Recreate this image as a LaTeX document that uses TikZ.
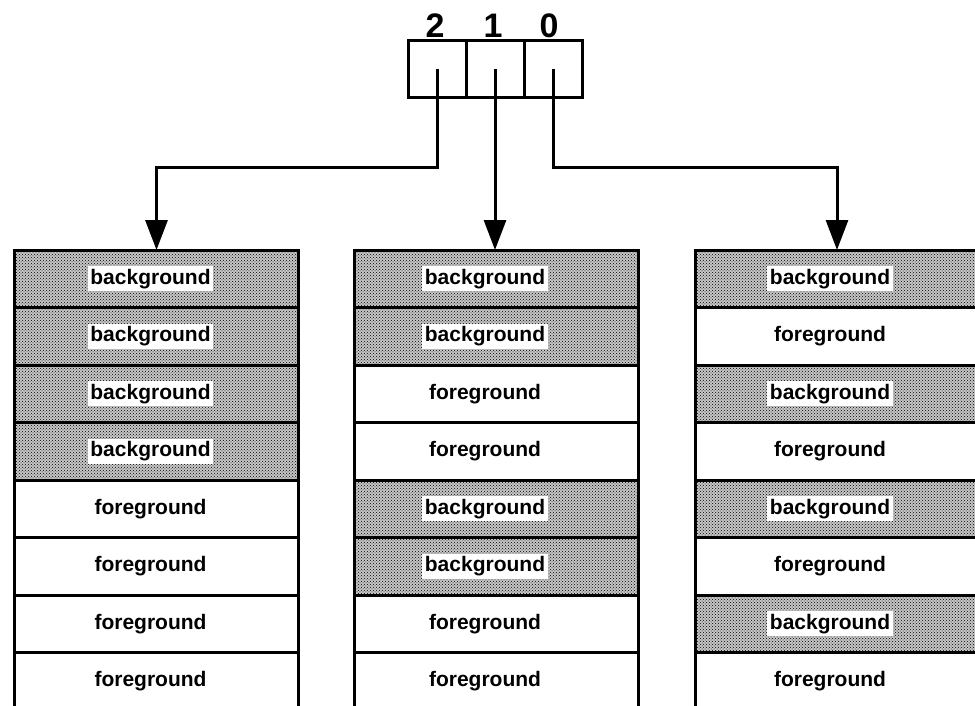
\documentclass[tikz,border=0pt]{standalone}
\usepackage{fontspec}
\setmainfont{Liberation Sans}
\usetikzlibrary{arrows.meta,patterns}
\newcommand\mycell[6]{% name, style, x, y, text x-shift, text
  \node[#2] (#1) at (#3,#4) {};
  \node[#2lbl] (#1t) at ([xshift=#5]#1.center) {#6};}
\begin{document}
\begin{tikzpicture}[x=1pt,y=-1pt,
  cell/.style={draw, line width=3pt, minimum width=284pt, minimum height=57.5pt, inner sep=0pt, outer sep=0pt},
  bgc/.style={cell, preaction={fill=gray!45}, pattern=crosshatch dots, pattern color=black},
  fgc/.style={cell, fill=white},
  lbl/.style={font=\fontsize{21}{25}\bfseries\selectfont, inner sep=2.5pt},
  bgclbl/.style={lbl, fill=white},
  fgclbl/.style={lbl},
  reg/.style={draw, line width=3pt, minimum width=58pt, minimum height=57pt, inner sep=0pt, outer sep=0pt},
  digit/.style={font=\fontsize{34}{40}\bfseries\selectfont, inner sep=0pt, anchor=base},
  conn/.style={line width=3pt, -{Triangle[width=22pt,length=30pt]}}
]
\clip (0,0) rectangle (975,706);
\fill[white] (0,0) rectangle (975,706);

% register
\node[reg] (r2) at (437,69.5) {};
\node[reg] (r1) at (495,69.5) {};
\node[reg] (r0) at (553,69.5) {};
\node[digit] (d2) at ([xshift=-2pt,yshift=3pt]r2.north) {2};
\node[digit] (d1) at ([xshift=-2pt,yshift=3pt]r1.north) {1};
\node[digit] (d0) at ([xshift=-4pt,yshift=3pt]r0.north) {0};

% left column
\mycell{L1}{bgc}{156.5}{278.75}{-6pt}{background}
\mycell{L2}{bgc}{156.5}{336.25}{-6pt}{background}
\mycell{L3}{bgc}{156.5}{393.75}{-6pt}{background}
\mycell{L4}{bgc}{156.5}{451.25}{-6pt}{background}
\mycell{L5}{fgc}{156.5}{508.75}{-6pt}{foreground}
\mycell{L6}{fgc}{156.5}{566.25}{-6pt}{foreground}
\mycell{L7}{fgc}{156.5}{623.75}{-6pt}{foreground}
\mycell{L8}{fgc}{156.5}{681.25}{-6pt}{foreground}

% middle column
\mycell{M1}{bgc}{496}{278.75}{-11pt}{background}
\mycell{M2}{bgc}{496}{336.25}{-11pt}{background}
\mycell{M3}{fgc}{496}{393.75}{-11pt}{foreground}
\mycell{M4}{fgc}{496}{451.25}{-11pt}{foreground}
\mycell{M5}{bgc}{496}{508.75}{-11pt}{background}
\mycell{M6}{bgc}{496}{566.25}{-11pt}{background}
\mycell{M7}{fgc}{496}{623.75}{-11pt}{foreground}
\mycell{M8}{fgc}{496}{681.25}{-11pt}{foreground}

% right column
\mycell{R1}{bgc}{837}{278.75}{-7pt}{background}
\mycell{R2}{fgc}{837}{336.25}{-7pt}{foreground}
\mycell{R3}{bgc}{837}{393.75}{-7pt}{background}
\mycell{R4}{fgc}{837}{451.25}{-7pt}{foreground}
\mycell{R5}{bgc}{837}{508.75}{-7pt}{background}
\mycell{R6}{fgc}{837}{566.25}{-7pt}{foreground}
\mycell{R7}{bgc}{837}{623.75}{-7pt}{background}
\mycell{R8}{fgc}{837}{681.25}{-7pt}{foreground}

% connectors
\coordinate (bL) at (L1.north |- 0,168);
\coordinate (bR) at (R1.north |- 0,168);
\draw[conn] (r2.center) |- (bL) -- (L1.north);
\draw[conn] (r1.center) -- (r1.center |- M1.north);
\draw[conn] (r0.center) |- (bR) -- (R1.north);
\end{tikzpicture}
\end{document}
